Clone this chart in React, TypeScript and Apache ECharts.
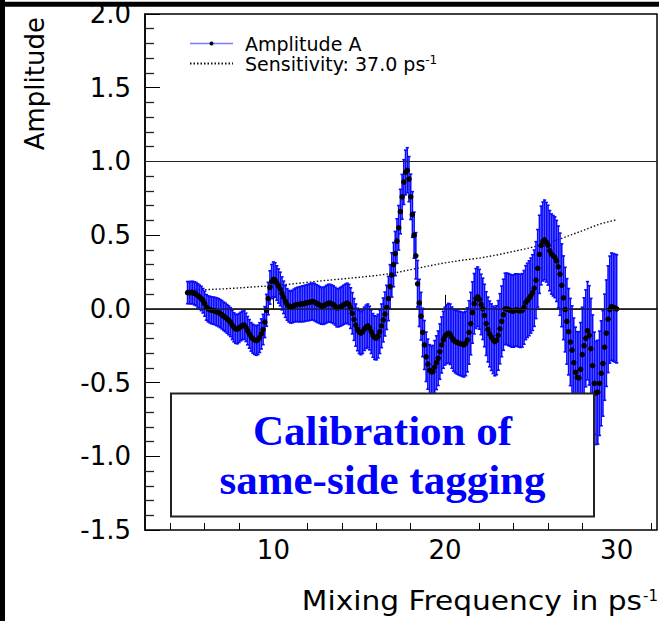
import React, { useEffect, useRef } from 'react';
import * as echarts from 'echarts';

// Scan frequencies: 5.0 .. 30.0 ps^-1 in steps of 0.1
const freqStart = 5.0;
const freqStep = 0.1;

// Amplitude A (central values), one per frequency step
const amplitude = [
  0.11, 0.11, 0.11, 0.11, 0.105, 0.1, 0.09, 0.08, 0.07, 0.055,
  0.035, 0.01, 0.0, -0.005, -0.01, -0.012, -0.015, -0.02, -0.025, -0.032,
  -0.04, -0.05, -0.058, -0.068, -0.078, -0.09, -0.11, -0.125, -0.135, -0.138,
  -0.13, -0.12, -0.112, -0.11, -0.125, -0.148, -0.17, -0.19, -0.202, -0.21,
  -0.215, -0.21, -0.195, -0.17, -0.14, -0.09, -0.01, 0.07, 0.145, 0.185,
  0.2, 0.195, 0.175, 0.155, 0.135, 0.105, 0.078, 0.05, 0.03, 0.018,
  0.012, 0.015, 0.022, 0.027, 0.03, 0.03, 0.032, 0.034, 0.036, 0.04,
  0.042, 0.045, 0.048, 0.05, 0.045, 0.038, 0.032, 0.026, 0.021, 0.02,
  0.025, 0.032, 0.038, 0.038, 0.034, 0.028, 0.018, 0.007, 0.008, 0.014,
  0.02, 0.028, 0.034, 0.039, 0.03, 0.005, -0.03, -0.072, -0.11, -0.14,
  -0.158, -0.165, -0.155, -0.135, -0.122, -0.115, -0.13, -0.155, -0.18, -0.195,
  -0.198, -0.185, -0.155, -0.115, -0.075, -0.035, 0.01, 0.07, 0.15, 0.23,
  0.3, 0.375, 0.46, 0.55, 0.66, 0.76, 0.86, 0.925, 0.94, 0.88,
  0.76, 0.64, 0.5, 0.36, 0.17, 0.04, -0.05, -0.16, -0.245, -0.325,
  -0.375, -0.415, -0.428, -0.425, -0.395, -0.365, -0.335, -0.29, -0.245, -0.21,
  -0.185, -0.172, -0.165, -0.172, -0.195, -0.212, -0.222, -0.228, -0.232, -0.236,
  -0.24, -0.244, -0.235, -0.21, -0.16, -0.1, -0.025, 0.035, 0.07, 0.082,
  0.065, 0.03, 0.0, -0.045, -0.1, -0.14, -0.17, -0.192, -0.21, -0.222,
  -0.213, -0.18, -0.135, -0.085, -0.04, 0.0, 0.0, -0.005, -0.01, -0.015,
  -0.015, -0.008, -0.008, -0.012, -0.014, -0.01, 0.01, 0.042, 0.058, 0.072,
  0.09, 0.11, 0.14, 0.195, 0.275, 0.37, 0.43, 0.457, 0.468, 0.452,
  0.432, 0.395, 0.372, 0.36, 0.35, 0.325, 0.285, 0.235, 0.16, 0.075,
  -0.005, -0.085, -0.155, -0.225, -0.28, -0.365, -0.43, -0.465, -0.468, -0.41,
  -0.31, -0.25, -0.2, -0.148, -0.18, -0.27, -0.385, -0.505, -0.57, -0.565,
  -0.505, -0.437, -0.37, -0.26, -0.165, -0.07, -0.005, 0.015, 0.01, 0.005,
  0.0,
];

// Statistical uncertainty (half-length of the error bar)
const amplitudeError = [
  0.075, 0.075, 0.076, 0.077, 0.078, 0.079, 0.08, 0.081, 0.082, 0.083,
  0.085, 0.087, 0.088, 0.09, 0.091, 0.092, 0.093, 0.094, 0.095, 0.095,
  0.096, 0.096, 0.097, 0.097, 0.098, 0.098, 0.098, 0.099, 0.099, 0.099,
  0.098, 0.097, 0.097, 0.096, 0.096, 0.096, 0.097, 0.097, 0.098, 0.099,
  0.1, 0.1, 0.101, 0.102, 0.103, 0.105, 0.108, 0.11, 0.113, 0.116,
  0.118, 0.118, 0.117, 0.116, 0.114, 0.112, 0.11, 0.108, 0.107, 0.107,
  0.108, 0.11, 0.112, 0.114, 0.116, 0.118, 0.12, 0.121, 0.122, 0.122,
  0.123, 0.124, 0.124, 0.125, 0.126, 0.126, 0.126, 0.125, 0.125, 0.125,
  0.126, 0.127, 0.128, 0.128, 0.128, 0.128, 0.128, 0.129, 0.13, 0.131,
  0.132, 0.133, 0.134, 0.135, 0.136, 0.138, 0.14, 0.142, 0.143, 0.144,
  0.145, 0.146, 0.147, 0.147, 0.147, 0.148, 0.148, 0.148, 0.148, 0.148,
  0.148, 0.148, 0.148, 0.148, 0.149, 0.149, 0.15, 0.15, 0.15, 0.15,
  0.15, 0.15, 0.151, 0.151, 0.151, 0.152, 0.152, 0.152, 0.153, 0.153,
  0.154, 0.155, 0.156, 0.157, 0.158, 0.16, 0.162, 0.164, 0.166, 0.168,
  0.17, 0.172, 0.175, 0.177, 0.18, 0.182, 0.185, 0.188, 0.19, 0.193,
  0.196, 0.199, 0.202, 0.205, 0.208, 0.21, 0.212, 0.214, 0.216, 0.217,
  0.218, 0.218, 0.218, 0.217, 0.215, 0.212, 0.208, 0.205, 0.203, 0.202,
  0.203, 0.205, 0.208, 0.212, 0.216, 0.22, 0.223, 0.226, 0.229, 0.232,
  0.234, 0.236, 0.238, 0.24, 0.241, 0.242, 0.243, 0.244, 0.244, 0.245,
  0.245, 0.246, 0.246, 0.247, 0.248, 0.249, 0.25, 0.251, 0.252, 0.254,
  0.255, 0.257, 0.259, 0.261, 0.263, 0.265, 0.267, 0.268, 0.27, 0.27,
  0.271, 0.272, 0.272, 0.273, 0.274, 0.275, 0.277, 0.279, 0.281, 0.284,
  0.287, 0.29, 0.293, 0.296, 0.3, 0.303, 0.306, 0.31, 0.313, 0.317,
  0.321, 0.325, 0.329, 0.333, 0.337, 0.341, 0.344, 0.347, 0.35, 0.352,
  0.354, 0.356, 0.358, 0.36, 0.361, 0.362, 0.363, 0.364, 0.365, 0.366,
  0.367,
];

// Sensitivity curve (1.645 sigma)
const sensFreq = [5, 6, 7, 8, 9, 10, 11, 12, 13, 14, 15, 16, 17, 18, 19, 20, 21, 22, 23, 24, 25, 26, 27, 28, 29, 30];
const sensitivity = [
  0.125, 0.13, 0.135, 0.142, 0.15, 0.158, 0.168, 0.18, 0.192, 0.203,
  0.214, 0.226, 0.242, 0.266, 0.29, 0.312, 0.33, 0.344, 0.365, 0.39,
  0.415, 0.445, 0.487, 0.53, 0.575, 0.605,
];

const xMajorTicks = [10, 20, 30];
const xMinorTicks = [4, 6, 8, 12, 14, 16, 18, 22, 24, 26, 28, 32];
const referenceLines = [0, 1];

const AMP_NAME = 'Amplitude A';
const SENS_NAME = 'Sensitivity: 37.0 ps-1';
const FONT = 'DejaVu Sans';

export default function App() {
  const ref = useRef<HTMLDivElement>(null);

  useEffect(() => {
    if (!ref.current) return;
    const chart = echarts.init(ref.current, null, { renderer: 'svg' });

    const freqs = amplitude.map((_, i) => +(freqStart + i * freqStep).toFixed(1));
    const points = amplitude.map((a, i) => [freqs[i], a]);
    const bars = amplitude.map((a, i) => [freqs[i], a - amplitudeError[i], a + amplitudeError[i]]);
    const sens = sensFreq.map((f, i) => [f, sensitivity[i]]);

    const barStyle = { stroke: '#0a0aff', lineWidth: 1.6 };

    chart.setOption({
      animation: false,
      backgroundColor: '#ffffff',
      textStyle: { fontFamily: FONT },
      grid: {
        left: 145, top: 14, width: 512, height: 516,
        show: true, borderColor: '#000', borderWidth: 1.5, backgroundColor: 'transparent',
      },
      legend: {
        orient: 'vertical', left: 189, top: 33.5, padding: 0, itemGap: 0,
        itemWidth: 43, itemHeight: 5, selectedMode: false,
        formatter: (name: string) => (name === SENS_NAME ? '{a|Sensitivity: 37.0 ps}{s|-1}' : name),
        textStyle: {
          fontFamily: FONT, fontSize: 19, color: '#000', lineHeight: 20, padding: [0, 0, 0, 7],
          rich: {
            a: { fontFamily: FONT, fontSize: 19, color: '#000', lineHeight: 20 },
            s: { fontFamily: FONT, fontSize: 12, color: '#000', lineHeight: 12, verticalAlign: 'top' },
          },
        },
        data: [
          { name: AMP_NAME, itemStyle: { color: '#000', opacity: 1 }, lineStyle: { color: '#7a7aff', width: 1.5, opacity: 1, type: 'solid' } },
          { name: SENS_NAME, itemStyle: { opacity: 0 } },
        ],
      },
      xAxis: [
        {
          type: 'value', min: 2.52, max: 32.35, position: 'bottom',
          axisLine: { show: true, lineStyle: { color: '#000', width: 1.5 } },
          axisTick: { show: true, inside: true, length: 14, customValues: xMajorTicks, lineStyle: { color: '#000', width: 1 } },
          axisLabel: { customValues: xMajorTicks, fontFamily: FONT, fontSize: 26, color: '#000', margin: 7 },
          splitLine: { show: false },
        },
        {
          type: 'value', min: 2.52, max: 32.35, position: 'bottom',
          axisLine: { show: false },
          axisTick: { show: true, inside: true, length: 7, customValues: xMinorTicks, lineStyle: { color: '#000', width: 1 } },
          axisLabel: { show: false },
          splitLine: { show: false },
        },
      ],
      yAxis: {
        type: 'value', min: -1.5, max: 2.0, interval: 0.5,
        axisLine: { show: true, lineStyle: { color: '#000', width: 1.5 } },
        axisTick: { show: true, inside: true, length: 15, lineStyle: { color: '#000', width: 1 } },
        minorTick: { show: true, splitNumber: 5, length: 9, lineStyle: { color: '#222', width: 1.3 } },
        axisLabel: {
          formatter: (v: number) => v.toFixed(1), fontFamily: FONT, fontSize: 26, color: '#000', margin: 14,
          showMinLabel: true, showMaxLabel: true,
        },
        splitLine: { show: false },
      },
      series: [
        {
          name: SENS_NAME, type: 'line', data: sens, symbol: 'none', z: 1,
          lineStyle: { color: '#111', width: 1.4, type: [1.5, 2] },
        },
        {
          name: 'errors', type: 'custom', z: 2, data: bars,
          encode: { x: 0, y: [1, 2] },
          renderItem: (_p: any, api: any) => {
            const x = api.value(0);
            const lo = api.coord([x, api.value(1)]);
            const hi = api.coord([x, api.value(2)]);
            return {
              type: 'group',
              children: [
                { type: 'line', shape: { x1: lo[0], y1: lo[1], x2: hi[0], y2: hi[1] }, style: barStyle },
                { type: 'line', shape: { x1: lo[0] - 1.6, y1: lo[1], x2: lo[0] + 1.6, y2: lo[1] }, style: barStyle },
                { type: 'line', shape: { x1: hi[0] - 1.6, y1: hi[1], x2: hi[0] + 1.6, y2: hi[1] }, style: barStyle },
              ],
            };
          },
        },
        {
          name: AMP_NAME, type: 'line', data: points, z: 3,
          symbol: 'circle', symbolSize: 5.5, showSymbol: true, showAllSymbol: true,
          itemStyle: { color: '#000' },
          lineStyle: { width: 0, opacity: 0, color: '#7a7aff' },
          markLine: {
            silent: true, symbol: ['none', 'none'], label: { show: false },
            lineStyle: { color: '#222', width: 1, type: 'solid' },
            data: referenceLines.map((v) => ({ yAxis: v })),
          },
        },
      ],
      graphic: [
        { type: 'rect', z: 100, shape: { x: 0, y: 1.7, width: 659, height: 5 }, style: { fill: '#000' } },
        { type: 'rect', z: 100, shape: { x: 0, y: 0, width: 5, height: 621 }, style: { fill: '#000' } },
        {
          type: 'text', z: 100, x: 35, y: 17, rotation: Math.PI / 2,
          style: { text: 'Amplitude', font: `26px "${FONT}"`, fill: '#000', textAlign: 'right', textVerticalAlign: 'middle' },
        },
        {
          type: 'text', z: 100, x: 642, y: 601, scaleX: 1.12,
          style: { text: 'Mixing Frequency in ps', font: `26.5px "${FONT}"`, fill: '#000', textAlign: 'right', textVerticalAlign: 'middle' },
        },
        {
          type: 'text', z: 100, x: 643, y: 588,
          style: { text: '-1', font: `15px "${FONT}"`, fill: '#000', textAlign: 'left', textVerticalAlign: 'top' },
        },
        {
          type: 'rect', z: 100, shape: { x: 171, y: 393.5, width: 423, height: 123 },
          style: { fill: '#fff', stroke: '#222', lineWidth: 2 },
        },
        {
          type: 'text', z: 101, x: 382.5, y: 430,
          style: { text: 'Calibration of', font: 'bold 43px "Liberation Serif"', fill: '#0000ff', textAlign: 'center', textVerticalAlign: 'middle' },
        },
        {
          type: 'text', z: 101, x: 382.5, y: 479,
          style: { text: 'same-side tagging', font: 'bold 43px "Liberation Serif"', fill: '#0000ff', textAlign: 'center', textVerticalAlign: 'middle' },
        },
      ],
    });

    return () => chart.dispose();
  }, []);

  return (
    <div
      ref={ref}
      style={{ position: 'fixed', left: 0, top: 0, width: 659, height: 621, background: '#fff' }}
    />
  );
}
